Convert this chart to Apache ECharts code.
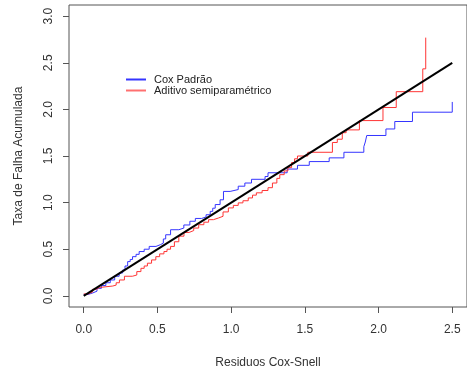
<!DOCTYPE html>
<html>
<head>
<meta charset="utf-8">
<script src="https://cdn.jsdelivr.net/npm/echarts@6/dist/echarts.min.js"></script>
<style>html,body{margin:0;padding:0;background:#fff}#c{width:467px;height:374px}</style>
</head>
<body>
<div id="c"></div>
<script>
// Cox Padrão step curve: residual (x) and cumulative hazard (y)
const coxX = [0, 0.03, 0.06, 0.09, 0.12, 0.15, 0.18, 0.21, 0.24, 0.264, 0.28, 0.298, 0.315, 0.331, 0.355, 0.376, 0.41, 0.444, 0.49, 0.522, 0.54, 0.556, 0.589, 0.645, 0.679, 0.72, 0.757, 0.80, 0.83, 0.858, 0.875, 0.892, 0.925, 0.948, 0.993, 1.048, 1.093, 1.138, 1.23, 1.25, 1.38, 1.45, 1.53, 1.665, 1.765, 1.90, 1.91, 1.92, 2.05, 2.11, 2.23, 2.50, 2.50];
const coxY = [0.015, 0.03, 0.05, 0.08, 0.11, 0.14, 0.17, 0.21, 0.245, 0.277, 0.32, 0.367, 0.39, 0.42, 0.445, 0.475, 0.50, 0.53, 0.55, 0.565, 0.61, 0.655, 0.709, 0.727, 0.76, 0.80, 0.83, 0.846, 0.87, 0.906, 0.94, 0.979, 1.03, 1.12, 1.14, 1.176, 1.21, 1.25, 1.28, 1.32, 1.36, 1.40, 1.44, 1.48, 1.54, 1.60, 1.65, 1.72, 1.79, 1.87, 1.97, 1.97, 2.08];
// Aditivo semiparamétrico step curve
const addX = [0, 0.03, 0.06, 0.085, 0.108, 0.15, 0.197, 0.22, 0.242, 0.276, 0.33, 0.36, 0.388, 0.41, 0.432, 0.46, 0.489, 0.515, 0.544, 0.565, 0.589, 0.615, 0.645, 0.68, 0.715, 0.746, 0.78, 0.815, 0.847, 0.88, 0.914, 0.945, 0.981, 1.015, 1.048, 1.08, 1.116, 1.145, 1.171, 1.21, 1.25, 1.28, 1.31, 1.33, 1.36, 1.385, 1.41, 1.43, 1.45, 1.52, 1.687, 1.72, 1.754, 1.78, 1.87, 2.03, 2.12, 2.30, 2.32];
const addY = [0.02, 0.04, 0.07, 0.09, 0.097, 0.105, 0.115, 0.14, 0.17, 0.21, 0.223, 0.26, 0.295, 0.32, 0.35, 0.385, 0.42, 0.45, 0.475, 0.50, 0.53, 0.58, 0.64, 0.68, 0.70, 0.727, 0.763, 0.79, 0.817, 0.835, 0.853, 0.90, 0.943, 0.97, 0.997, 1.02, 1.05, 1.08, 1.105, 1.13, 1.16, 1.21, 1.26, 1.30, 1.34, 1.375, 1.43, 1.47, 1.50, 1.54, 1.645, 1.68, 1.75, 1.78, 1.88, 2.02, 2.19, 2.435, 2.77];
// reference line y = x
const refX = [0, 2.5];
const refY = [0, 2.5];
const xTicks = [0, 0.5, 1, 1.5, 2, 2.5];
const yTicks = [0, 0.5, 1, 1.5, 2, 2.5, 3];
const seriesNames = ['Cox Padrão', 'Aditivo semiparamétrico'];

const zip = (a, b) => a.map((v, i) => [v, b[i]]);
const font = 'Liberation Sans, Arial, sans-serif';
const chart = echarts.init(document.getElementById('c'), null, {renderer: 'canvas'});
chart.setOption({
  animation: false,
  backgroundColor: '#fff',
  grid: {left: 69, top: 5, bottom: 67, width: 402, show: true, borderColor: '#555', borderWidth: 1, backgroundColor: 'transparent', containLabel: false},
  legend: {
    left: 121, top: 69, orient: 'vertical', itemGap: 0, itemWidth: 20, itemHeight: 2, icon: 'rect',
    textStyle: {fontFamily: font, fontSize: 11, color: '#222', padding: [0, 0, 0, 3]},
    data: seriesNames
  },
  xAxis: {
    type: 'value', min: -0.1, max: 2.6,
    name: 'Residuos Cox-Snell', nameLocation: 'middle', nameGap: 50,
    nameTextStyle: {fontFamily: font, fontSize: 12, color: '#333'},
    axisLine: {show: false, onZero: false},
    axisTick: {show: true, length: 6, customValues: xTicks, lineStyle: {color: '#555'}},
    axisLabel: {customValues: xTicks, margin: 17, fontFamily: font, fontSize: 12, color: '#333', formatter: v => v.toFixed(1)},
    splitLine: {show: false}
  },
  yAxis: {
    type: 'value', min: -0.12, max: 3.12,
    name: 'Taxa de Falha Acumulada', nameLocation: 'middle', nameGap: 44,
    nameTextStyle: {fontFamily: font, fontSize: 12, color: '#333'},
    axisLine: {show: false, onZero: false},
    axisTick: {show: true, length: 6, customValues: yTicks, lineStyle: {color: '#555'}},
    axisLabel: {customValues: yTicks, rotate: 90, margin: 14, fontFamily: font, fontSize: 12, color: '#333', formatter: v => v.toFixed(1)},
    splitLine: {show: false}
  },
  series: [
    {name: seriesNames[0], type: 'line', step: 'end', showSymbol: false, data: zip(coxX, coxY), lineStyle: {color: '#3535ff', width: 1}, itemStyle: {color: '#3535ff'}},
    {name: seriesNames[1], type: 'line', step: 'end', showSymbol: false, data: zip(addX, addY), lineStyle: {color: '#ff3535', width: 1}, itemStyle: {color: '#ff7070'}},
    {name: 'ref', type: 'line', showSymbol: false, data: zip(refX, refY), lineStyle: {color: '#000', width: 2}, itemStyle: {color: '#000'}}
  ]
});
</script>
</body>
</html>
